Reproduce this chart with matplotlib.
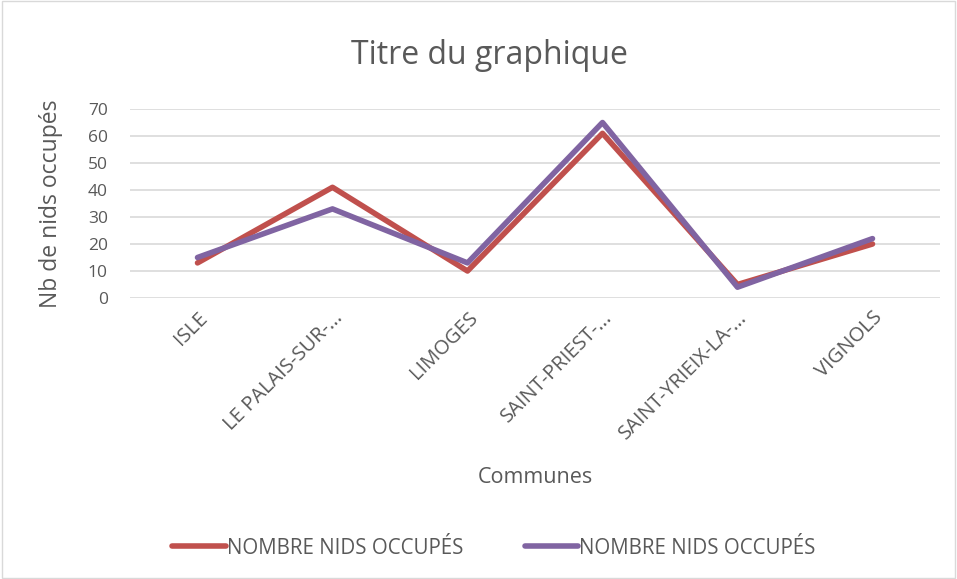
import matplotlib.pyplot as plt
import numpy as np

communes = ["ISLE", "LE PALAIS-SUR-...", "LIMOGES", "SAINT-PRIEST-...",
            "SAINT-YRIEIX-LA-...", "VIGNOLS"]
serie1 = [13, 41, 10, 61, 5, 20]
serie2 = [15, 33, 13, 65, 4, 22]
noms = ["NOMBRE NIDS OCCUPÉS", "NOMBRE NIDS OCCUPÉS"]
yticks = [0, 10, 20, 30, 40, 50, 60, 70]

plt.rcParams['font.family'] = ['Open Sans', 'DejaVu Sans']
gris = "#595959"

fig = plt.figure(figsize=(9.57, 5.79), dpi=100)
fig.patches.append(plt.Rectangle((0.002, 0.002), 0.996, 0.996, transform=fig.transFigure,
                                 fill=False, edgecolor="#d9d9d9", linewidth=1))
ax = fig.add_axes([130 / 957, 281 / 579, 810 / 957, 189 / 579])

x = np.arange(len(communes))
ax.plot(x, serie1, color="#c0504d", linewidth=4, solid_capstyle="round", label=noms[0])
ax.plot(x, serie2, color="#8064a2", linewidth=4, solid_capstyle="round", label=noms[1])

ax.set_xlim(-0.5, len(communes) - 0.5)
ax.set_ylim(0, 70)
ax.set_yticks(yticks)
ax.grid(axis="y", color="#d9d9d9", linewidth=1.2)
ax.set_axisbelow(True)
for s in ax.spines.values():
    s.set_visible(False)
ax.tick_params(length=0, colors=gris)
ax.tick_params(axis="y", labelsize=12.5, pad=16)
ax.tick_params(axis="x", labelsize=14.5, pad=7)
ax.set_xticks(x)
ax.set_xticklabels(communes, rotation=45, ha="right", rotation_mode="anchor")

ax.set_ylabel("Nb de nids occupés", fontsize=16.5, color=gris, labelpad=18)
ax.set_xlabel("Communes", fontsize=15.5, color=gris, labelpad=17)
fig.text(489 / 957, 1 - 55 / 579, "Titre du graphique", fontsize=23, color=gris,
         ha="center", va="center")

fig.legend(loc="center", bbox_to_anchor=(0.516, 1 - 548 / 579), ncol=2, frameon=False,
           fontsize=14.8, labelcolor=gris, handlelength=2.6, handletextpad=0.05,
           columnspacing=3)

fig.savefig("out.png", dpi=100)
